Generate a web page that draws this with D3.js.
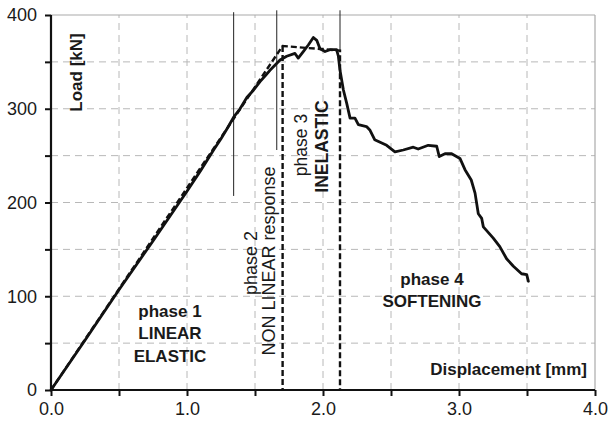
<!DOCTYPE html>
<html><head><meta charset="utf-8">
<script src="https://cdn.jsdelivr.net/npm/d3@7"></script>
<style>body{margin:0;background:#fff}svg{display:block;font-family:"Liberation Sans",Arial,sans-serif}</style>
</head><body><svg id="c" width="610" height="421"></svg>
<script>
const dispMm = [0,0.25,0.5,0.75,1.0,1.1,1.2,1.25,1.3,1.343,1.39,1.44,1.49,1.537,1.58,1.61,1.65,1.684,1.733,1.794,1.818,1.855,1.892,1.929,1.954,1.978,2.015,2.051,2.10,2.113,2.125,2.15,2.174,2.199,2.235,2.26,2.32,2.346,2.38,2.468,2.529,2.59,2.664,2.70,2.774,2.836,2.855,2.897,2.946,3.007,3.044,3.09,3.118,3.142,3.167,3.179,3.252,3.30,3.35,3.40,3.46,3.498,3.51];
const loadKn = [0,53,107,159,212,234,257,268,280,291,300,312,320,329,336,341,347,352,356,359,354,361,368,376,373,364,361,363,363,356,341,320,306,290,290,283,281,277,267,261,254,256,259,257,261,260,249,252,252,247,235,224,210,188,183,174,162,153,140,132,124,123,116];
const idealDisp = [0,1.703,2.125,2.125];
const idealLoad = [0,367,362,0];
const yieldDisp = [1.703,1.703];
const yieldLoad = [367,0];
const phaseLineDisp = [1.343,1.66,2.125];
const phaseLineTop = [403,405,405];
const phaseLineBottom = [207,256,362];
const xTicks = [0,0.5,1,1.5,2,2.5,3,3.5,4];
const xTickLabels = ["0.0","","1.0","","2.0","","3.0","","4.0"];
const yTicks = [0,50,100,150,200,250,300,350,400];
const yTickLabels = ["0","","100","","200","","300","","400"];

const svg = d3.select("#c");
const m = {l:51,t:15,r:15,b:31};
const W = 610, H = 421;
const x = d3.scaleLinear().domain([0,4]).range([m.l, W-m.r]);
const y = d3.scaleLinear().domain([0,400]).range([H-m.b, m.t]);

// grid
const g = svg.append("g");
g.selectAll(".gx").data(xTicks.slice(1,-1)).join("line")
  .attr("x1",d=>x(d)).attr("x2",d=>x(d)).attr("y1",y(0)).attr("y2",y(400))
  .attr("stroke","#b8b8b8").attr("stroke-width",1).attr("stroke-dasharray","7,5");
g.selectAll(".gy").data(yTicks.slice(1,-1)).join("line")
  .attr("x1",x(0)).attr("x2",x(4)).attr("y1",d=>y(d)).attr("y2",d=>y(d))
  .attr("stroke","#b8b8b8").attr("stroke-width",1).attr("stroke-dasharray","7,5");
// top/right border
svg.append("line").attr("x1",x(0)).attr("x2",x(4)).attr("y1",y(400)).attr("y2",y(400)).attr("stroke","#aaa").attr("stroke-width",1.2);
svg.append("line").attr("x1",x(4)).attr("x2",x(4)).attr("y1",y(0)).attr("y2",y(400)).attr("stroke","#aaa").attr("stroke-width",1.2);

// axes
const xa = svg.append("g").attr("transform",`translate(0,${y(0)})`)
  .call(d3.axisBottom(x).tickValues(xTicks).tickFormat((d,i)=>xTickLabels[i]).tickSize(6).tickPadding(6));
const ya = svg.append("g").attr("transform",`translate(${x(0)},0)`)
  .call(d3.axisLeft(y).tickValues(yTicks).tickFormat((d,i)=>yTickLabels[i]).tickSize(6).tickPadding(8));
[xa,ya].forEach(a=>{
  a.select(".domain").attr("stroke","#111").attr("stroke-width",2.2);
  a.selectAll(".tick line").attr("stroke","#111").attr("stroke-width",2);
  a.selectAll(".tick text").attr("font-size",18).attr("fill","#1a1a1a").attr("font-family","Liberation Sans,Arial,sans-serif");
});
ya.select(".domain").attr("d",`M0,${y(0)}V${y(400)}`);
xa.select(".domain").attr("d",`M${x(0)},0H${x(4)}`);

// phase boundary thin lines
svg.selectAll(".pl").data(phaseLineDisp).join("line")
  .attr("x1",d=>x(d)).attr("x2",d=>x(d))
  .attr("y1",(d,i)=>y(phaseLineTop[i])).attr("y2",(d,i)=>y(phaseLineBottom[i]))
  .attr("stroke","#222").attr("stroke-width",1);

// idealized dashed
const lineGen = d3.line().x(d=>x(d[0])).y(d=>y(d[1]));
svg.append("path").attr("d",lineGen(idealDisp.map((d,i)=>[d,idealLoad[i]])))
  .attr("fill","none").attr("stroke","#111").attr("stroke-width",2.4).attr("stroke-dasharray","6,3");
svg.append("path").attr("d",lineGen(yieldDisp.map((d,i)=>[d,yieldLoad[i]])))
  .attr("fill","none").attr("stroke","#111").attr("stroke-width",2.4).attr("stroke-dasharray","6,3");

// measured curve
svg.append("path").attr("d",lineGen(dispMm.map((d,i)=>[d,loadKn[i]])))
  .attr("fill","none").attr("stroke","#111").attr("stroke-width",2.8).attr("stroke-linejoin","round").attr("stroke-linecap","round");

// texts
const T = (tx,ty,s,opt)=>{
  const t = svg.append("text").attr("x",tx).attr("y",ty).text(s)
    .attr("font-size",opt.size||17).attr("font-weight",opt.w||"bold").attr("fill","#1a1a1a")
    .attr("text-anchor",opt.a||"middle");
  if(opt.rot) t.attr("transform",`rotate(-90,${tx},${ty})`);
  return t;
};
T(82,72.5,"Load [kN]",{rot:true});
T(170,316.7,"phase 1",{});
T(170,339.3,"LINEAR",{});
T(170,361.7,"ELASTIC",{});
T(257,263,"phase 2",{rot:true,w:"normal",size:18});
T(275,261,"NON LINEAR response",{rot:true,w:"normal",size:18});
T(307,145,"phase 3",{rot:true,w:"normal",size:17.5});
T(328,146.5,"INELASTIC",{rot:true,size:17.5});
T(432,285,"phase 4",{});
T(432,306.7,"SOFTENING",{});
T(587,375,"Displacement [mm]",{a:"end"});
</script></body></html>
